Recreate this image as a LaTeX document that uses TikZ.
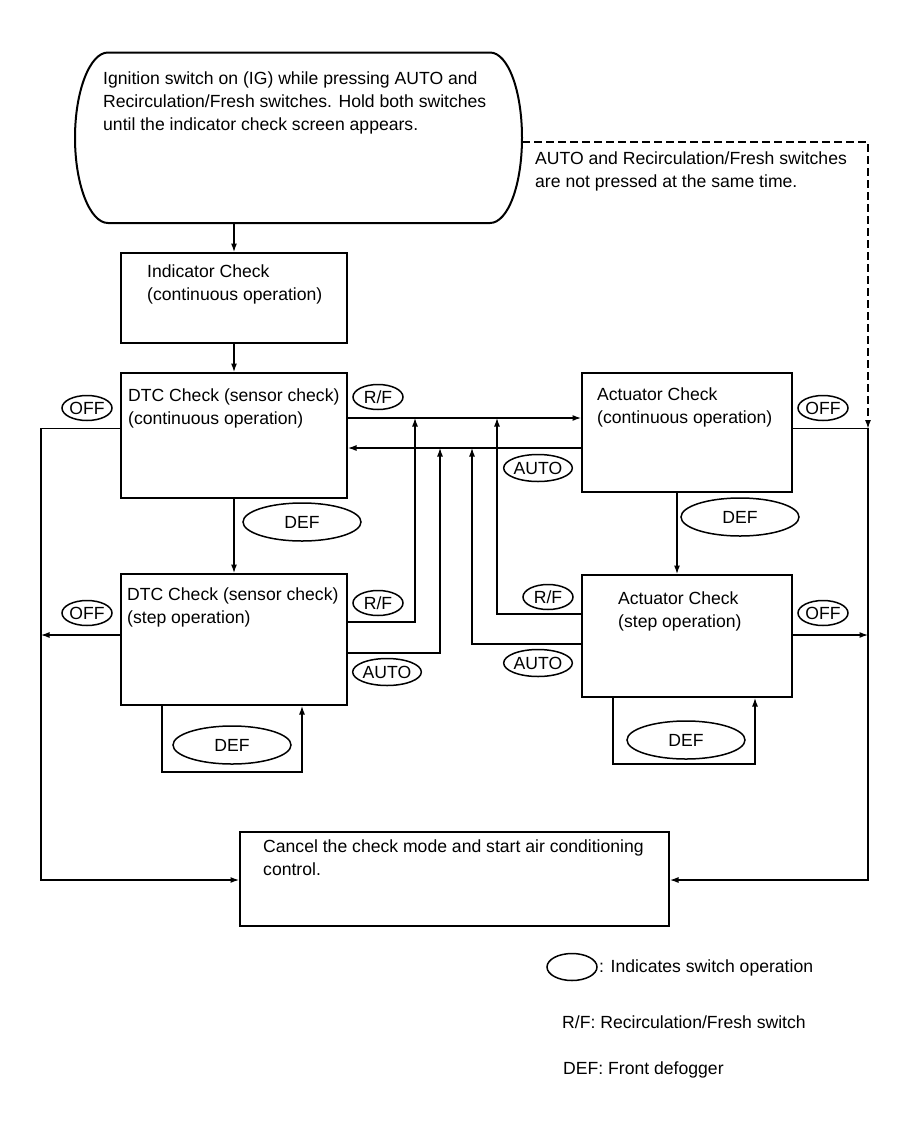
\documentclass[tikz,border=0pt]{standalone}
\usepackage{fontspec}
\setmainfont{Liberation Sans}
\usetikzlibrary{arrows.meta,shapes.geometric,calc}
\begin{document}
\begin{tikzpicture}[x=1pt,y=-1pt,
  box/.style={draw, rectangle, line width=2pt, inner sep=0pt},
  txt/.style={inner sep=0pt, align=left, anchor=north west, font=\fontsize{17.6}{22.8}\selectfont},
  conn/.style={line width=1.2pt},
  arr/.style={conn, -{Latex[length=8.5pt,width=6pt]}},
  oval/.style={draw, ellipse, line width=1.5pt, inner sep=0pt, font=\fontsize{17.6}{20}\selectfont},
  smalloval/.style={oval, minimum width=50pt, minimum height=25pt},
  autooval/.style={oval, minimum width=68pt, minimum height=27pt},
  bigoval/.style={oval, minimum width=118pt, minimum height=38pt}]
\useasboundingbox (0,0) rectangle (906,1122);
\fill[white] (0,0) rectangle (906,1122);

% start stadium
\node[inner sep=0pt, minimum width=447pt, minimum height=170.5pt] (start) at (298.5,137.75) {};
\draw[line width=2pt] (108,52.5) -- (490,52.5)
  .. controls (508,52.5) and (522,90.67) .. (522,137.75)
  .. controls (522,184.83) and (508,223) .. (490,223)
  -- (108,223)
  .. controls (90,223) and (75,184.83) .. (75,137.75)
  .. controls (75,90.67) and (90,52.5) .. (108,52.5) -- cycle;
\node[txt] (startT) at (103,71.5) {Ignition switch on (IG) while pressing AUTO and\\Recirculation/Fresh switches. Hold both switches\\until the indicator check screen appears.};

\node[txt] (dashT) at (535,151.5) {AUTO and Recirculation/Fresh switches\\are not pressed at the same time.};

% boxes
\node[box, minimum width=226pt, minimum height=90pt] (ind) at (234,298) {};
\node[txt] (indT) at (147,265) {Indicator Check\\(continuous operation)};

\node[box, minimum width=226pt, minimum height=125pt] (dtcc) at (234,435.5) {};
\node[txt] (dtccT) at (128,389) {DTC Check (sensor check)\\(continuous operation)};

\node[box, minimum width=226pt, minimum height=131pt] (dtcs) at (234,639.5) {};
\node[txt] (dtcsT) at (127,588) {DTC Check (sensor check)\\(step operation)};

\node[box, minimum width=210pt, minimum height=119pt] (actc) at (687,432.5) {};
\node[txt] (actcT) at (597,387.5) {Actuator Check\\(continuous operation)};

\node[box, minimum width=210pt, minimum height=122pt] (acts) at (687,636) {};
\node[txt] (actsT) at (618,591.5) {Actuator Check\\(step operation)};

\node[box, minimum width=429pt, minimum height=94pt] (cancel) at (454.5,879) {};
\node[txt] (cancelT) at (263,840) {Cancel the check mode and start air conditioning\\control.};

% coordinates
\coordinate (h1) at (0,418);
\coordinate (h2) at (0,448);
\coordinate (a1) at (0,622);
\coordinate (a2) at (0,653);
\coordinate (a3) at (0,614);
\coordinate (a4) at (0,644);
\coordinate (v1) at (415,0);
\coordinate (v2) at (440,0);
\coordinate (v3) at (472,0);
\coordinate (v4) at (497,0);
\coordinate (o1) at (0,428.5);
\coordinate (o2) at (0,635);
\coordinate (lcol) at (41,0);
\coordinate (rcol) at (868,0);
\coordinate (bot) at (0,880);
\coordinate (dy) at (0,142);
\coordinate (ax) at (677,0);
\coordinate (d1) at (162,0);
\coordinate (d2) at (302,0);
\coordinate (dl) at (0,772);
\coordinate (d3) at (613,0);
\coordinate (d4) at (755,0);
\coordinate (dl2) at (0,764);

% vertical flow
\draw[arr] (ind.north |- start.south) -- (ind.north);
\draw[arr] (ind.south) -- (dtcc.north);
\draw[arr] (dtcc.south) -- (dtcs.north);
\draw[arr] (actc.south -| ax) -- (acts.north -| ax);

% horizontal links
\draw[arr] (dtcc.east |- h1) -- (actc.west |- h1);
\draw[arr] (actc.west |- h2) -- (dtcc.east |- h2);
\draw[arr] (dtcs.east |- a1) -| (v1 |- h1);
\draw[arr] (dtcs.east |- a2) -| (v2 |- h2);
\draw[arr] (acts.west |- a3) -| (v4 |- h1);
\draw[arr] (acts.west |- a4) -| (v3 |- h2);

% OFF lines
\draw[arr] (dtcc.west |- o1) -- (lcol |- o1) -- (lcol |- bot) -- (cancel.west |- bot);
\draw[arr] (dtcs.west |- o2) -- (lcol |- o2);
\draw[arr] (actc.east |- o1) -- (rcol |- o1) -- (rcol |- bot) -- (cancel.east |- bot);
\draw[arr] (acts.east |- o2) -- (rcol |- o2);

% dashed
\draw[arr, dash pattern=on 8pt off 4pt] (start.east |- dy) -- (rcol |- dy) -- (rcol |- o1);

% DEF loops
\draw[arr] (dtcs.south -| d1) -- (d1 |- dl) -- (d2 |- dl) -- (dtcs.south -| d2);
\draw[arr] (acts.south -| d3) -- (d3 |- dl2) -- (d4 |- dl2) -- (acts.south -| d4);

% switch ovals
\node[smalloval] (rf1) at (378,397) {R/F};
\node[autooval] (au1) at (538,468) {AUTO};
\node[smalloval] (rf2) at (378,603) {R/F};
\node[autooval] (au2) at (387,672) {AUTO};
\node[smalloval] (rf3) at (548,597) {R/F};
\node[autooval] (au3) at (538,663) {AUTO};
\node[smalloval] (off1) at (87,408) {OFF};
\node[smalloval] (off2) at (87,613) {OFF};
\node[smalloval] (off3) at (823,408) {OFF};
\node[smalloval] (off4) at (823,613) {OFF};
\node[bigoval] (def1) at (302,522) {DEF};
\node[bigoval] (def2) at (740,517) {DEF};
\node[bigoval] (def3) at (232,745) {DEF};
\node[bigoval] (def4) at (686,740) {DEF};

% legend
\node[oval, minimum width=50pt, minimum height=27pt] (legO) at (572,967) {};
\node[txt, anchor=west] (legT1) at (599,968) {: Indicates switch operation};
\node[txt, anchor=west] (legT2) at (562,1022) {R/F: Recirculation/Fresh switch};
\node[txt, anchor=west] (legT3) at (563,1070) {DEF: Front defogger};
\end{tikzpicture}
\end{document}
